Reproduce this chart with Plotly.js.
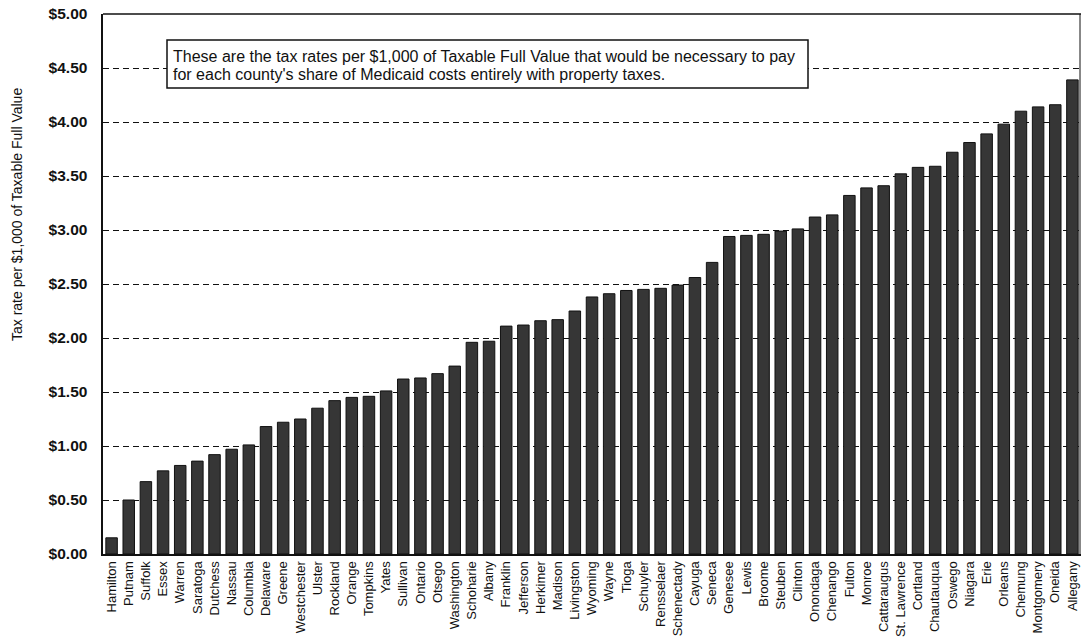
<!DOCTYPE html>
<html>
<head>
<meta charset="utf-8">
<script src="https://cdn.plot.ly/plotly-3.0.1.min.js"></script>
<style>html,body{margin:0;padding:0;background:#fff;}#chart{width:1081px;height:637px;}</style>
</head>
<body>
<div id="chart"></div>
<script>
const counties = ["Hamilton","Putnam","Suffolk","Essex","Warren","Saratoga","Dutchess","Nassau","Columbia","Delaware","Greene","Westchester","Ulster","Rockland","Orange","Tompkins","Yates","Sullivan","Ontario","Otsego","Washington","Schoharie","Albany","Franklin","Jefferson","Herkimer","Madison","Livingston","Wyoming","Wayne","Tioga","Schuyler","Rensselaer","Schenectady","Cayuga","Seneca","Genesee","Lewis","Broome","Steuben","Clinton","Onondaga","Chenango","Fulton","Monroe","Cattaraugus","St. Lawrence","Cortland","Chautauqua","Oswego","Niagara","Erie","Orleans","Chemung","Montgomery","Oneida","Allegany"];
const taxRates = [0.15,0.50,0.67,0.77,0.82,0.86,0.92,0.97,1.01,1.18,1.22,1.25,1.35,1.42,1.45,1.46,1.51,1.62,1.63,1.67,1.74,1.96,1.97,2.11,2.12,2.16,2.17,2.25,2.38,2.41,2.44,2.45,2.46,2.49,2.56,2.70,2.94,2.95,2.96,2.99,3.01,3.12,3.14,3.32,3.39,3.41,3.52,3.58,3.59,3.72,3.81,3.89,3.98,4.10,4.14,4.16,4.39];
const yTickVals = [0,0.5,1,1.5,2,2.5,3,3.5,4,4.5,5];
const yTickText = ["$0.00","$0.50","$1.00","$1.50","$2.00","$2.50","$3.00","$3.50","$4.00","$4.50","$5.00"];
const yTitle = "Tax rate per $1,000 of Taxable Full Value";
const noteLines = ["These are the tax rates per $1,000 of Taxable Full Value that would be necessary to pay",
                   "for each county's share of Medicaid costs entirely with property taxes."];

const FONT = 'Arial, Liberation Sans, sans-serif';
const W = 1081, H = 637, L = 103, R = 0, T = 14, B = 83;
const PW = W - L - R, PH = H - T - B;
const px = x => (x - L) / PW;
const py = y => (H - B - y) / PH;

const trace = {
  type: 'bar',
  x: counties,
  y: taxRates,
  marker: {color: '#363636', line: {color: '#111', width: 1}},
  hoverinfo: 'x+y'
};
const layout = {
  width: W, height: H,
  margin: {l: L, r: R, t: T, b: B},
  paper_bgcolor: '#fff', plot_bgcolor: '#fff',
  bargap: 0.33,
  showlegend: false,
  font: {family: FONT, color: '#111'},
  xaxis: {
    type: 'category',
    tickangle: -90,
    tickfont: {size: 13, family: FONT, color: '#111'},
    showline: true, linecolor: '#111', linewidth: 2,
    ticks: '', showgrid: false,
    automargin: false
  },
  yaxis: {
    range: [0, 5],
    tickvals: yTickVals, ticktext: yTickText,
    tickfont: {size: 15.5, family: FONT, color: '#111', weight: 'bold'},
    showline: true, linecolor: '#111', linewidth: 2.5,
    showgrid: true, gridcolor: '#111', gridwidth: 1, griddash: '6px,4px',
    zeroline: false, ticks: '', ticklabelstandoff: 10,
    automargin: false
  },
  shapes: [
    {type: 'line', xref: 'paper', yref: 'paper', x0: 0, x1: 1, y0: 1, y1: 1, line: {color: '#111', width: 1.5}},
    {type: 'line', xref: 'paper', yref: 'paper', x0: px(1080), x1: px(1080), y0: 0, y1: 1, line: {color: '#111', width: 1}},
    {type: 'rect', xref: 'paper', yref: 'paper', x0: px(167), x1: px(808), y0: py(40), y1: py(88),
     fillcolor: '#fff', line: {color: '#111', width: 1.5}, layer: 'above'}
  ],
  annotations: [
    {xref: 'paper', yref: 'paper', x: px(171), y: py(56.5), xanchor: 'left', yanchor: 'middle',
     text: noteLines[0], showarrow: false, font: {size: 16, family: FONT, color: '#111'}},
    {xref: 'paper', yref: 'paper', x: px(171), y: py(74), xanchor: 'left', yanchor: 'middle',
     text: noteLines[1], showarrow: false, font: {size: 16, family: FONT, color: '#111'}},
    {xref: 'paper', yref: 'paper', x: px(17), y: py(215), xanchor: 'center', yanchor: 'middle',
     text: yTitle, textangle: -90, showarrow: false, font: {size: 14, family: FONT, color: '#111'}}
  ]
};
Plotly.newPlot('chart', [trace], layout, {displayModeBar: false, staticPlot: true});
</script>
</body>
</html>
